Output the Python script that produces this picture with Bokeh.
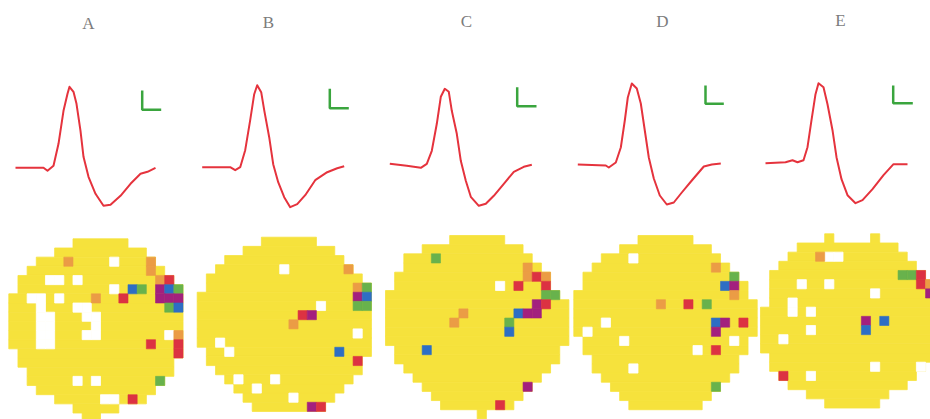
from bokeh.plotting import figure
from bokeh.models import Range1d
from bokeh.embed import file_html
from bokeh.resources import INLINE
from bokeh.core.properties import value

# ---------------- data ----------------
panel_labels = ["A", "B", "C", "D", "E"]

# spike waveforms: time offset and amplitude (amplitude positive = up)
wave_t_A = [0, 28, 32, 38, 43, 48, 52, 54, 58, 61, 65, 68, 73, 80, 88, 95, 105, 115, 125, 132, 140]
wave_v_A = [0, 0, -3, 2, 24, 57, 74, 81, 76, 64, 37, 11, -9, -26, -38, -37, -28, -16, -6, -4, 0]
wave_t_B = [0, 28, 33, 38, 43, 48, 52, 55, 59, 62, 67, 71, 76, 82, 88, 95, 103, 113, 125, 135, 142]
wave_v_B = [0, 0, -3, 0, 17, 47, 73, 82, 75, 57, 30, 3, -15, -30, -40, -37, -28, -13, -5, -1, 1]
wave_t_C = [0, 17, 31, 37, 42, 47, 51, 55, 59, 62, 67, 71, 76, 81, 89, 96, 104, 114, 124, 134, 142]
wave_v_C = [0, -2, -4, 0, 13, 40, 67, 75, 72, 53, 30, 3, -17, -33, -42, -40, -32, -20, -8, -3, -1]
wave_t_D = [0, 28, 31, 38, 43, 47, 50, 54, 59, 63, 67, 71, 76, 82, 89, 96, 104, 114, 126, 134, 143]
wave_v_D = [0, -1, -3, 2, 17, 44, 67, 81, 76, 61, 34, 7, -14, -31, -40, -38, -28, -16, -2, 0, 1]
wave_t_E = [0, 20, 27, 32, 38, 42, 46, 50, 53, 58, 62, 67, 71, 76, 82, 90, 97, 107, 118, 128, 142]
wave_v_E = [0, 1, 3, 1, 3, 16, 43, 69, 80, 76, 59, 33, 6, -16, -32, -40, -37, -26, -12, -1, -1]

# electrode-array maps: (row, first_col, last_col) of active area
rows_A = [(0, 7, 12), (1, 5, 14), (2, 3, 15), (3, 2, 16), (4, 1, 17), (5, 1, 18), (6, 0, 18), (7, 0, 18),
          (8, 0, 18), (9, 0, 18), (10, 0, 18), (11, 0, 18), (12, 1, 18), (13, 1, 17), (14, 2, 17),
          (15, 2, 16), (16, 3, 15), (17, 5, 14), (18, 7, 11), (19, 8, 9)]
rows_B = [(0, 7, 12), (1, 5, 14), (2, 3, 15), (3, 2, 16), (4, 1, 17), (5, 1, 18), (6, 0, 18), (7, 0, 18),
          (8, 0, 18), (9, 0, 18), (10, 0, 18), (11, 0, 18), (12, 1, 18), (13, 1, 17), (14, 2, 17),
          (15, 3, 16), (16, 4, 15), (17, 5, 14), (18, 6, 13)]
rows_C = [(0, 7, 12), (1, 4, 14), (2, 2, 15), (3, 2, 16), (4, 1, 17), (5, 1, 17), (6, 0, 18), (7, 0, 19),
          (8, 0, 19), (9, 0, 19), (10, 0, 19), (11, 0, 19), (12, 1, 18), (13, 1, 18), (14, 2, 17),
          (15, 3, 16), (16, 4, 15), (17, 5, 14), (18, 6, 13), (19, 10, 10)]
rows_D = [(0, 7, 12), (1, 5, 14), (2, 3, 15), (3, 2, 16), (4, 1, 17), (5, 1, 18), (6, 0, 18), (7, 0, 19),
          (8, 0, 19), (9, 0, 19), (10, 0, 19), (11, 1, 18), (12, 1, 18), (13, 2, 17), (14, 2, 17),
          (15, 3, 16), (16, 4, 15), (17, 5, 14), (18, 6, 13)]
rows_E = [(0, 7, 7), (0, 12, 12), (1, 4, 14), (2, 3, 15), (3, 2, 16), (4, 1, 17), (5, 1, 18), (6, 1, 18),
          (7, 1, 18), (8, 0, 18), (9, 0, 18), (10, 0, 18), (11, 0, 18), (12, 0, 18), (13, 1, 18),
          (14, 1, 17), (15, 2, 16), (16, 3, 15), (17, 5, 13), (18, 7, 12)]

# inactive electrodes (row, col)
holes_A = [(2, 11), (4, 4), (4, 5), (4, 7), (5, 11), (6, 2), (6, 3), (6, 5), (7, 3), (7, 7), (7, 8),
           (8, 3), (8, 4), (8, 8), (8, 9), (9, 3), (9, 4), (9, 9), (10, 3), (10, 4), (10, 8), (10, 9),
           (11, 3), (11, 4), (10, 17), (15, 7), (15, 9), (17, 10), (17, 11)]
holes_B = [(3, 9), (7, 13), (10, 17), (11, 2), (12, 3), (15, 4), (15, 8), (16, 6), (17, 10)]
holes_C = [(5, 12)]
holes_D = [(2, 6), (9, 3), (10, 1), (11, 5), (11, 17), (12, 13), (14, 6)]
holes_E = [(2, 7), (2, 8), (5, 4), (5, 7), (6, 12), (7, 3), (8, 3), (8, 5), (10, 5), (11, 2),
           (14, 12), (14, 17), (15, 5)]

# responding electrodes (row, col, class)
cells_A = [(2, 6, "o"), (2, 15, "o"), (3, 15, "o"), (4, 16, "o"), (4, 17, "r"), (5, 13, "b"), (5, 14, "g"),
           (5, 16, "m"), (5, 17, "b"), (5, 18, "g"), (6, 9, "o"), (6, 12, "r"), (6, 16, "m"), (6, 17, "m"),
           (6, 18, "m"), (7, 17, "g"), (7, 18, "b"), (10, 18, "o"), (11, 15, "r"), (11, 18, "r"),
           (12, 18, "r"), (15, 16, "g"), (17, 13, "r")]
cells_B = [(3, 16, "o"), (5, 17, "o"), (5, 18, "g"), (6, 17, "m"), (6, 18, "b"), (7, 17, "g"), (7, 18, "g"),
           (8, 11, "r"), (8, 12, "m"), (9, 10, "o"), (12, 15, "b"), (13, 17, "r"), (18, 12, "m"), (18, 13, "r")]
cells_C = [(2, 5, "g"), (3, 15, "o"), (4, 15, "o"), (4, 16, "r"), (4, 17, "o"), (5, 14, "r"), (5, 17, "r"),
           (6, 17, "g"), (6, 18, "g"), (7, 16, "m"), (7, 17, "r"), (8, 14, "b"), (8, 15, "m"), (8, 16, "m"),
           (8, 8, "o"), (9, 7, "o"), (9, 13, "g"), (10, 13, "b"), (12, 4, "b"), (16, 15, "m"), (18, 12, "r")]
cells_D = [(3, 15, "o"), (4, 17, "g"), (5, 16, "b"), (5, 17, "m"), (6, 17, "o"), (7, 9, "o"), (7, 12, "r"),
           (7, 14, "g"), (9, 15, "b"), (9, 16, "m"), (9, 18, "r"), (10, 15, "m"), (12, 15, "r"), (16, 15, "g")]
cells_E = [(2, 6, "o"), (4, 15, "g"), (4, 16, "g"), (4, 17, "r"), (5, 17, "r"), (5, 18, "o"), (6, 18, "m"),
           (9, 11, "m"), (10, 11, "b"), (9, 13, "b"), (15, 2, "r")]

# ---------------- layout / style ----------------
PITCH = 9.17
grid_origin = [(8.3, 238.3), (196.7, 236.7), (385.0, 235.0), (573.3, 235.0), (760.0, 233.3)]
wave_origin = [(15.0, 167.3), (201.7, 166.7), (389.3, 163.3), (577.3, 164.0), (765.0, 162.7)]
scalebars = [(141.7, 90.0, 109.3, 160.7), (329.3, 88.3, 107.7, 348.3), (516.7, 86.7, 105.7, 536.0),
             (705.0, 85.0, 103.3, 723.3), (892.7, 85.0, 102.7, 912.3)]
label_pos = [(88, 23), (268, 22), (466, 21), (662, 21), (840, 20)]

YELLOW = "#f6e23c"
COLORS = {"o": "#eb9c45", "r": "#dc3242", "m": "#a3207e", "b": "#2d6ec4", "g": "#68b24c"}

waves_t = [wave_t_A, wave_t_B, wave_t_C, wave_t_D, wave_t_E]
waves_v = [wave_v_A, wave_v_B, wave_v_C, wave_v_D, wave_v_E]
rows_all = [rows_A, rows_B, rows_C, rows_D, rows_E]
holes_all = [holes_A, holes_B, holes_C, holes_D, holes_E]
cells_all = [cells_A, cells_B, cells_C, cells_D, cells_E]

p = figure(width=930, height=419, x_range=Range1d(0, 930), y_range=Range1d(419, 0),
           output_backend="svg", toolbar_location=None, min_border=0,
           x_axis_type=None, y_axis_type=None, outline_line_color=None,
           background_fill_color="white", border_fill_color="white")
p.grid.visible = False

for i in range(5):
    gx, gy = grid_origin[i]
    rows = rows_all[i]
    p.quad(left=[gx + c0 * PITCH for r, c0, c1 in rows],
           right=[gx + (c1 + 1) * PITCH for r, c0, c1 in rows],
           top=[gy + r * PITCH for r, c0, c1 in rows],
           bottom=[gy + (r + 1) * PITCH for r, c0, c1 in rows],
           fill_color=YELLOW, line_color=YELLOW, line_width=0.8)
    holes = holes_all[i]
    p.quad(left=[gx + c * PITCH for r, c in holes],
           right=[gx + (c + 1) * PITCH for r, c in holes],
           top=[gy + r * PITCH for r, c in holes],
           bottom=[gy + (r + 1) * PITCH for r, c in holes],
           fill_color="white", line_color="white", line_width=0.8)
    cells = cells_all[i]
    cols = [COLORS[k] for r, c, k in cells]
    p.quad(left=[gx + c * PITCH for r, c, k in cells],
           right=[gx + (c + 1) * PITCH for r, c, k in cells],
           top=[gy + r * PITCH for r, c, k in cells],
           bottom=[gy + (r + 1) * PITCH for r, c, k in cells],
           fill_color=cols, line_color=cols, line_width=0.6)

    wx, wy = wave_origin[i]
    p.line(x=[wx + t for t in waves_t[i]], y=[wy - v for v in waves_v[i]],
           line_color="#e5333d", line_width=2, line_join="round")

    sx, st, sb, sr = scalebars[i]
    p.line(x=[sx, sx, sr], y=[st, sb, sb], line_color="#3aa53e", line_width=2.5)

    lx, ly = label_pos[i]
    p.text(x=[lx], y=[ly], text=[panel_labels[i]], text_font=value("Liberation Serif"),
           text_font_size="17px", text_color="#7c7c7c", text_align="center",
           text_baseline="middle")

open("out.html", "w").write(file_html(p, INLINE))
